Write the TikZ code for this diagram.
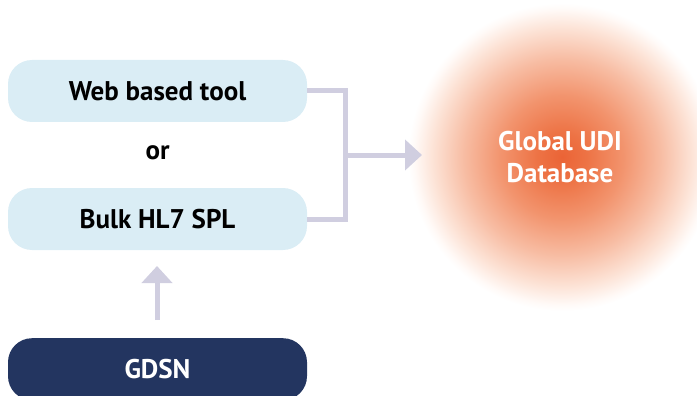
\documentclass[tikz,border=0pt]{standalone}
\usepackage{fontspec}
\setmainfont{PT Sans}
\usetikzlibrary{arrows.meta}
\definecolor{boxblue}{RGB}{218,237,245}
\definecolor{navy}{RGB}{35,53,96}
\definecolor{conn}{RGB}{208,206,224}
\pgfdeclareradialshading{glob}{\pgfpoint{0bp}{0bp}}{%
  rgb(0bp)=(0.92,0.39,0.21);
  rgb(4bp)=(0.93,0.45,0.27);
  rgb(10bp)=(0.95,0.58,0.43);
  rgb(16bp)=(0.97,0.74,0.64);
  rgb(21bp)=(0.99,0.89,0.84);
  rgb(24bp)=(1,0.98,0.97);
  rgb(25bp)=(1,1,1);
  rgb(50bp)=(1,1,1)}
\tikzset{
  txt/.style={font=\bfseries\fontsize{27}{32}\selectfont},
  src/.style={txt, fill=boxblue, rounded corners=24pt, minimum width=299pt, minimum height=62pt, inner sep=0pt},
  gd/.style={txt, fill=navy, text=white, rounded corners=24pt, minimum width=299pt, minimum height=62pt, inner sep=0pt},
  link/.style={draw=conn, line width=5pt},
  tip/.style={-{Triangle[width=30pt,length=17pt]}}
}
\begin{document}
\begin{tikzpicture}[x=1pt,y=-1pt]
\useasboundingbox (0,0) rectangle (697,396);
\begin{scope}
\clip (0,0) rectangle (697,396);
\shade[shading=glob] (562,157) circle (154);
\node[src] (web) at (157.5,91) {Web based tool};
\node[src] (bulk) at (157.5,219) {Bulk HL7 SPL};
\node[txt] (or) at (157.5,153) {or};
\node[gd, anchor=north] (gdsn) at (157.5,338) {\raisebox{-2pt}{GDSN}};
\node[text=white, align=center, font=\bfseries\fontsize{27}{32}\selectfont] (db) at (560,157) {Global UDI\\Database};
\coordinate (j1) at (345,91);
\coordinate (j2) at (345,219);
\coordinate (jm) at (345,155);
\coordinate (dbin) at (422,155);
\coordinate (up0) at (157,320);
\coordinate (up1) at (157,266);
\draw[link, line cap=butt] (web.east) -- (j1) -- (j2) -- (bulk.east);
\draw[link, tip] (jm) -- (dbin);
\draw[link, tip] (up0) -- (up1);
\end{scope}
\end{tikzpicture}
\end{document}
